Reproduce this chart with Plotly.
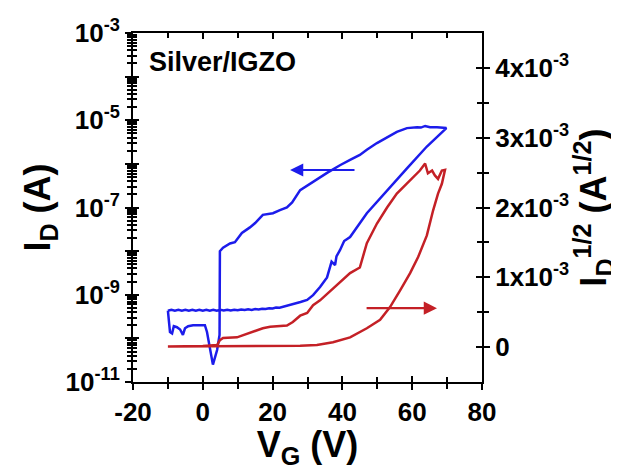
import plotly.graph_objects as go

# ---------------- data ----------------
# Blue: I_D (A), log axis (left).  Loop: forward sweep then reverse sweep.
blue_vg = [-10, -9, -8, -7, -6, -5, -4, -3, -2, -1, 0, 1, 2, 3, 4, 5, 6, 7, 8, 9,
           10, 11, 12, 13, 14, 15, 16, 17, 18, 19, 20, 21, 22, 23, 24, 25, 26, 27, 28,
           29.9, 31.6, 33.6, 35.6, 36.9, 37.9, 38.3, 39.3, 40.5, 42.2, 47.0, 52.8, 58.5, 64.2, 69.8,
           67.1, 65.1, 63.7, 62.5, 61.4, 58.5, 55.6, 52.8, 49.9, 47.0, 45.0, 42.2, 39.3, 35.6,
           31.6, 27.9, 25.6, 24.1, 22.1, 20.1, 17.2, 15.0, 13.5, 11.2, 9.2, 7.8, 5.8, 4.9,
           4.8, 4.1, 2.9, 2.1, 1.2, 0.6, -0.8, -2.8, -4.2, -5.1, -5.7, -6.5, -7.4, -8.3, -8.8,
           -9.4, -10.0]
blue_id = [4.3e-10, 4.5e-10, 4.3e-10, 4.5e-10, 4.3e-10, 4.5e-10, 4.3e-10, 4.5e-10, 4.3e-10, 4.5e-10,
           4.3e-10, 4.5e-10, 4.3e-10, 4.5e-10, 4.3e-10, 4.5e-10, 4.35e-10, 4.55e-10, 4.35e-10, 4.55e-10,
           4.4e-10, 4.6e-10, 4.45e-10, 4.65e-10, 4.5e-10, 4.7e-10, 4.6e-10, 4.8e-10, 4.7e-10, 4.9e-10,
           4.85e-10, 5.1e-10, 5.05e-10, 5.3e-10, 5.4e-10, 5.7e-10, 6.0e-10, 6.3e-10, 6.8e-10,
           7.6e-10, 9.8e-10, 1.5e-9, 2.5e-9, 5.75e-9, 4.8e-9, 7.6e-9, 1.05e-8, 1.7e-8, 2.1e-8,
           7.4e-8, 2.5e-7, 7.9e-7, 2.5e-6, 6.6e-6,
           6.9e-6, 6.9e-6, 7.4e-6, 6.8e-6, 6.9e-6, 6.6e-6, 5.4e-6, 4.1e-6, 3.0e-6, 2.1e-6, 1.6e-6,
           1.23e-6, 9.3e-7, 6.2e-7, 3.8e-7, 2.5e-7, 1.3e-7, 1.0e-7, 8.7e-8, 7.4e-8, 6.8e-8, 4.4e-8,
           3.5e-8, 2.6e-8, 1.6e-8, 1.5e-8, 1.2e-8, 1.0e-8,
           1.2e-10, 5.4e-11, 2.5e-11, 5.4e-11, 1.4e-10, 2.0e-10, 2.0e-10, 2.0e-10, 1.9e-10, 1.7e-10,
           1.2e-10, 1.6e-10, 1.8e-10, 1.9e-10, 1.3e-10, 1.4e-10, 4.3e-10]

# Red: I_D^(1/2) (A^(1/2)), linear axis (right)
red_vg = [-10, -5, 0, 5, 10, 15, 20, 25, 27.9, 32.7, 37.3, 42.2, 47.0, 50.8, 53.6, 56.5, 59.4,
          61.7, 64.2, 66.0, 67.4, 68.5, 69.1, 69.4,
          68.5, 67.4, 66.5, 65.7, 64.5, 63.7, 62.2, 60.8, 58.5, 55.6, 52.8, 49.9, 47.0, 45.9, 45.0,
          42.2, 39.3, 35.6, 33.6, 31.6, 29.9, 27.9, 25.8, 24.1, 19.3, 17.2, 13.5, 9.8, 5.8, 4.9,
          4.1, 0, -10]
red_sqrt = [1.0e-5, 1.0e-5, 1.0e-5, 1.0e-5, 1.2e-5, 1.5e-5, 1.8e-5, 2.0e-5, 2.0e-5, 3.0e-5, 7.0e-5,
            1.4e-4, 2.7e-4, 3.9e-4, 5.7e-4, 8.1e-4, 1.06e-3, 1.29e-3, 1.60e-3, 1.96e-3, 2.20e-3,
            2.34e-3, 2.50e-3, 2.54e-3,
            2.53e-3, 2.41e-3, 2.46e-3, 2.53e-3, 2.49e-3, 2.63e-3, 2.53e-3, 2.46e-3, 2.34e-3, 2.20e-3,
            2.00e-3, 1.77e-3, 1.49e-3, 1.29e-3, 1.14e-3, 1.06e-3, 0.93e-3, 0.77e-3, 0.67e-3, 0.60e-3,
            0.49e-3, 0.45e-3, 0.36e-3, 0.31e-3, 0.29e-3, 0.27e-3, 0.20e-3, 0.14e-3, 0.13e-3, 0.10e-3,
            0.03e-3, 1.5e-5, 1.0e-5]

# Axis ticks
x_range = [-20, 80]
x_vals = [-20, 0, 20, 40, 60, 80]
x_labels = ["-20", "0", "20", "40", "60", "80"]
y_log_range = [-11, -3]
y_decades = [-11, -10, -9, -8, -7, -6, -5, -4, -3]
y_labels = ["10<sup>-11</sup>", "", "10<sup>-9</sup>", "", "10<sup>-7</sup>", "",
            "10<sup>-5</sup>", "", "10<sup>-3</sup>"]
y2_range = [-0.5e-3, 4.5e-3]
y2_vals = [0, 1e-3, 2e-3, 3e-3, 4e-3]
y2_labels = ["0", "1x10<sup>-3</sup>", "2x10<sup>-3</sup>", "3x10<sup>-3</sup>", "4x10<sup>-3</sup>"]
y2_minor = [0.5e-3, 1.5e-3, 2.5e-3, 3.5e-3]

BLUE = "rgb(28,28,235)"
RED = "rgb(196,32,38)"
FONT = "Liberation Sans"

y_major = [10.0 ** d for d in y_decades]
y_minor = [m * 10.0 ** d for d in y_decades[:-1] for m in range(2, 10)]

fig = go.Figure()
fig.add_trace(go.Scatter(x=blue_vg, y=blue_id, mode="lines", line=dict(color=BLUE, width=2.5),
                         showlegend=False, hoverinfo="skip"))
fig.add_trace(go.Scatter(x=red_vg, y=red_sqrt, mode="lines", line=dict(color=RED, width=2.5),
                         yaxis="y2", showlegend=False, hoverinfo="skip"))
# invisible traces to activate the overlay axes that draw the inner half of the ticks
fig.add_trace(go.Scatter(x=[0], y=[1e-7], xaxis="x3", yaxis="y3", mode="markers",
                         marker=dict(opacity=0), showlegend=False, hoverinfo="skip"))
fig.add_trace(go.Scatter(x=[0], y=[1e-3], xaxis="x3", yaxis="y4", mode="markers",
                         marker=dict(opacity=0), showlegend=False, hoverinfo="skip"))

tickfont = dict(family=FONT, size=26, color="black", weight="bold")
titlefont = dict(family=FONT, size=36, color="black", weight="bold")

fig.update_layout(
    width=611, height=462,
    margin=dict(l=125, r=137, t=25, b=88, autoexpand=False),
    paper_bgcolor="white", plot_bgcolor="white",
    xaxis=dict(range=x_range, tickmode="array", tickvals=x_vals, ticktext=x_labels,
               ticks="outside", ticklen=6, tickwidth=2, tickcolor="black",
               minor=dict(dtick=10, tick0=-20, ticks="outside", ticklen=5, tickwidth=2, tickcolor="black"),
               showline=True, linecolor="black", linewidth=2, mirror=True, automargin=False,
               showgrid=False, zeroline=False, tickfont=tickfont,
               title=dict(text="V<sub>G</sub> (V)", font=titlefont, standoff=6)),
    yaxis=dict(type="log", range=y_log_range, tickmode="array", tickvals=y_major, ticktext=y_labels,
               ticks="outside", ticklen=6, tickwidth=2, tickcolor="black",
               minor=dict(tickmode="array", tickvals=y_minor, ticks="outside", ticklen=4,
                          tickwidth=1.5, tickcolor="black"),
               showline=True, linecolor="black", linewidth=2, automargin=False,
               showgrid=False, zeroline=False, tickfont=tickfont,
               title=dict(text="I<sub>D</sub> (A)", font=titlefont, standoff=4)),
    yaxis2=dict(range=y2_range, overlaying="y", side="right", tickmode="array",
                tickvals=y2_vals, ticktext=y2_labels, automargin=False,
                ticks="outside", ticklen=6, tickwidth=2, tickcolor="black",
                minor=dict(tickmode="array", tickvals=y2_minor, ticks="outside", ticklen=5,
                           tickwidth=2, tickcolor="black"),
                showline=True, linecolor="black", linewidth=2,
                showgrid=False, zeroline=False, tickfont=tickfont,
                title=dict(text="I<sub>D</sub><sup>1/2</sup> (A<sup>1/2</sup>)", font=titlefont, standoff=6)),
    xaxis3=dict(range=x_range, overlaying="x", anchor="y3", side="bottom", tickmode="array",
                tickvals=x_vals, ticks="inside", ticklen=6, tickwidth=2, tickcolor="black",
                minor=dict(dtick=10, tick0=-20, ticks="inside", ticklen=5, tickwidth=2, tickcolor="black"),
                mirror="ticks", showline=False, showgrid=False, zeroline=False, showticklabels=False,
                automargin=False),
    yaxis3=dict(type="log", range=y_log_range, overlaying="y", anchor="x3", side="left",
                tickmode="array", tickvals=y_major, ticks="inside", ticklen=6, tickwidth=2,
                tickcolor="black", automargin=False,
                minor=dict(tickmode="array", tickvals=y_minor, ticks="inside", ticklen=4,
                           tickwidth=1.5, tickcolor="black"),
                showline=False, showgrid=False, zeroline=False, showticklabels=False),
    yaxis4=dict(range=y2_range, overlaying="y", anchor="x3", side="right",
                tickmode="array", tickvals=y2_vals, ticks="inside", ticklen=6, tickwidth=2,
                tickcolor="black", automargin=False,
                minor=dict(tickmode="array", tickvals=y2_minor, ticks="inside", ticklen=5,
                           tickwidth=2, tickcolor="black"),
                showline=False, showgrid=False, zeroline=False, showticklabels=False),
    annotations=[
        dict(text="<b>Silver/IGZO</b>", x=0.04, y=0.917, xref="paper", yref="paper",
             xanchor="left", yanchor="middle", showarrow=False,
             font=dict(family=FONT, size=27, color="black")),
        dict(text="", x=25.0, y=-6.14, ax=43.9, ay=-6.14, xref="x", yref="y", axref="x", ayref="y",
             showarrow=True, arrowhead=2, arrowsize=1.2, arrowwidth=2.2, arrowcolor=BLUE),
        dict(text="", x=67.1, y=0.557e-3, ax=46.5, ay=0.557e-3, xref="x", yref="y2", axref="x",
             ayref="y2", showarrow=True, arrowhead=2, arrowsize=1.2, arrowwidth=2.2, arrowcolor=RED),
    ],
)

fig.write_html("out.html")
